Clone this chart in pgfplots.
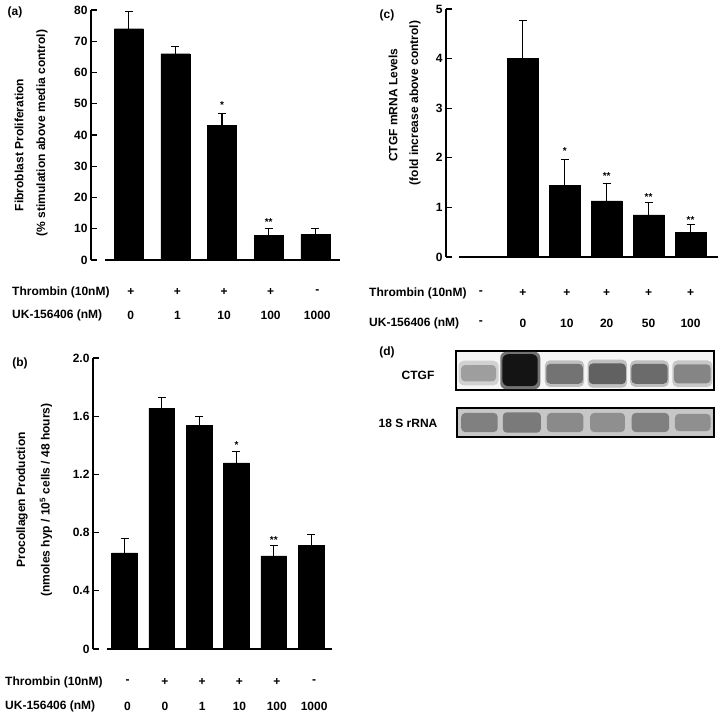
\documentclass[border=0pt]{standalone}
\usepackage{fontspec}
\setmainfont{Liberation Sans}
\usepackage{pgfplots}
\pgfplotsset{compat=1.18}

\newcommand{\lab}{\bfseries\fontsize{12}{14}\selectfont}
\newcommand{\st}{\bfseries\fontsize{10}{12}\selectfont}

\pgfplotsset{
  panel/.style={
    scale only axis, clip=false, anchor=south west,
    axis x line=none, axis y line*=left,
    y axis line style={line width=1.2pt},
    ytick style={line width=1.2pt, black},
    tick align=inside, major tick length=6pt,
    yticklabel style={font=\lab},
    xtick=\empty,
  },
  barstyle/.style={ybar, bar shift=0pt, fill=black, draw=black,
    error bars/y dir=plus, error bars/y explicit,
    error bars/error bar style={line width=1.2pt, black},
    error bars/error mark options={rotate=90, line width=1.2pt, mark size=4pt, black}},
  blot/.style={scale only axis, clip=false, anchor=south west,
    xmin=-0.54, xmax=5.52, ymin=0, ymax=1, ticks=none,
    axis line style={line width=1.2pt}},
}

\begin{document}
\begin{tikzpicture}
\useasboundingbox (0,0) rectangle (720pt,715pt);

% ---------------- (a)
\begin{axis}[panel, at={(91pt,455pt)}, width=249pt, height=250pt,
  xmin=-0.81, xmax=4.53, ymin=0, ymax=80,
  ytick={0,10,20,30,40,50,60,70,80}, yticklabels={0,10,20,30,40,50,60,70,80}]
\addplot[bar width=29pt, barstyle] coordinates {
  (0,74.0) +- (0,5.5)
  (1,66.0) +- (0,2.4)
  (2,43.0) +- (0,3.8)
  (3,7.9) +- (0,2.1)
  (4,8.1) +- (0,2.0)};
\draw[line width=1.2pt] (axis cs:-0.507,0) -- (axis cs:4.53,0);
\node[font=\st] at (axis cs:2,49.6) {*};
\node[font=\st] at (axis cs:3,12.2) {**};
\node[font=\lab, yshift=-32pt, xshift=2pt] at (axis cs:0,0) {+};
\node[font=\lab, yshift=-32pt, xshift=2pt] at (axis cs:1,0) {+};
\node[font=\lab, yshift=-32pt, xshift=2pt] at (axis cs:2,0) {+};
\node[font=\lab, yshift=-32pt, xshift=2pt] at (axis cs:3,0) {+};
\node[font=\lab, yshift=-32pt, xshift=2pt] at (axis cs:4,0) {-};
\node[font=\lab, yshift=-55pt, xshift=2pt] at (axis cs:0,0) {0};
\node[font=\lab, yshift=-55pt, xshift=2pt] at (axis cs:1,0) {1};
\node[font=\lab, yshift=-55pt, xshift=2pt] at (axis cs:2,0) {10};
\node[font=\lab, yshift=-55pt, xshift=2pt] at (axis cs:3,0) {100};
\node[font=\lab, yshift=-55pt, xshift=2pt] at (axis cs:4,0) {1000};
\end{axis}

% ---------------- (b)
\begin{axis}[panel, at={(93pt,66pt)}, width=239pt, height=291pt,
  xmin=-0.845, xmax=5.56, ymin=0, ymax=2,
  ytick={0,0.4,0.8,1.2,1.6,2.0}, yticklabels={0,0.4,0.8,1.2,1.6,2.0}]
\addplot[bar width=25.7pt, barstyle] coordinates {
  (0,0.66) +- (0,0.10)
  (1,1.655) +- (0,0.075)
  (2,1.535) +- (0,0.065)
  (3,1.28) +- (0,0.08)
  (4,0.64) +- (0,0.07)
  (5,0.71) +- (0,0.075)};
\draw[line width=1.2pt] (axis cs:-0.47,0) -- (axis cs:5.56,0);
\node[font=\st] at (axis cs:3,1.40) {*};
\node[font=\st] at (axis cs:4,0.75) {**};
\node[font=\lab, yshift=-33pt, xshift=3pt] at (axis cs:0,0) {-};
\node[font=\lab, yshift=-33pt, xshift=3pt] at (axis cs:1,0) {+};
\node[font=\lab, yshift=-33pt, xshift=3pt] at (axis cs:2,0) {+};
\node[font=\lab, yshift=-33pt, xshift=3pt] at (axis cs:3,0) {+};
\node[font=\lab, yshift=-33pt, xshift=3pt] at (axis cs:4,0) {+};
\node[font=\lab, yshift=-33pt, xshift=3pt] at (axis cs:5,0) {-};
\node[font=\lab, yshift=-57pt, xshift=3pt] at (axis cs:0,0) {0};
\node[font=\lab, yshift=-57pt, xshift=3pt] at (axis cs:1,0) {0};
\node[font=\lab, yshift=-57pt, xshift=3pt] at (axis cs:2,0) {1};
\node[font=\lab, yshift=-57pt, xshift=3pt] at (axis cs:3,0) {10};
\node[font=\lab, yshift=-57pt, xshift=3pt] at (axis cs:4,0) {100};
\node[font=\lab, yshift=-57pt, xshift=3pt] at (axis cs:5,0) {1000};
\end{axis}

% ---------------- (c)
\begin{axis}[panel, at={(446pt,458pt)}, width=272pt, height=248pt,
  xmin=-0.835, xmax=5.656, ymin=0, ymax=5,
  ytick={0,1,2,3,4,5}, yticklabels={0,1,2,3,4,5}]
\addplot[bar width=31pt, barstyle] coordinates {
  (1,4.00) +- (0,0.77)
  (2,1.44) +- (0,0.53)
  (3,1.13) +- (0,0.35)
  (4,0.85) +- (0,0.25)
  (5,0.50) +- (0,0.15)};
\draw[line width=1.2pt] (axis cs:-0.525,0) -- (axis cs:5.656,0);
\node[font=\st] at (axis cs:2,2.14) {*};
\node[font=\st] at (axis cs:3,1.63) {**};
\node[font=\st] at (axis cs:4,1.21) {**};
\node[font=\st] at (axis cs:5,0.75) {**};
\node[font=\lab, yshift=-36pt] at (axis cs:0,0) {-};
\node[font=\lab, yshift=-36pt] at (axis cs:1,0) {+};
\node[font=\lab, yshift=-36pt, xshift=2pt] at (axis cs:2,0) {+};
\node[font=\lab, yshift=-36pt] at (axis cs:3,0) {+};
\node[font=\lab, yshift=-36pt] at (axis cs:4,0) {+};
\node[font=\lab, yshift=-36pt] at (axis cs:5,0) {+};
\node[font=\lab, yshift=-66pt] at (axis cs:0,0) {-};
\node[font=\lab, yshift=-66pt] at (axis cs:1,0) {0};
\node[font=\lab, yshift=-66pt, xshift=2pt] at (axis cs:2,0) {10};
\node[font=\lab, yshift=-66pt] at (axis cs:3,0) {20};
\node[font=\lab, yshift=-66pt] at (axis cs:4,0) {50};
\node[font=\lab, yshift=-66pt] at (axis cs:5,0) {100};
\end{axis}

% ---------------- (d) CTGF blot
\begin{axis}[blot, at={(456pt,325pt)}, width=258pt, height=39pt,
  axis background/.style={fill=black!4}]
\addplot[fill=black!18, draw=none, rounded corners=5pt] coordinates {(-0.48,0.12) (0.46,0.12) (0.46,0.75) (-0.48,0.75)} -- cycle;
\addplot[fill=black!38, draw=none, rounded corners=4pt] coordinates {(-0.42,0.22) (0.40,0.22) (0.40,0.64) (-0.42,0.64)} -- cycle;
\addplot[fill=black!55, draw=none, rounded corners=6pt] coordinates {(0.50,0.02) (1.44,0.02) (1.44,0.98) (0.50,0.98)} -- cycle;
\addplot[fill=black!92, draw=none, rounded corners=6pt] coordinates {(0.55,0.10) (1.38,0.10) (1.38,0.92) (0.55,0.92)} -- cycle;
\addplot[fill=black!25, draw=none, rounded corners=5pt] coordinates {(1.55,0.08) (2.47,0.08) (2.47,0.76) (1.55,0.76)} -- cycle;
\addplot[fill=black!55, draw=none, rounded corners=4pt] coordinates {(1.58,0.16) (2.44,0.16) (2.44,0.67) (1.58,0.67)} -- cycle;
\addplot[fill=black!25, draw=none, rounded corners=5pt] coordinates {(2.55,0.06) (3.48,0.06) (3.48,0.78) (2.55,0.78)} -- cycle;
\addplot[fill=black!62, draw=none, rounded corners=4pt] coordinates {(2.58,0.15) (3.45,0.15) (3.45,0.68) (2.58,0.68)} -- cycle;
\addplot[fill=black!25, draw=none, rounded corners=5pt] coordinates {(3.55,0.08) (4.46,0.08) (4.46,0.76) (3.55,0.76)} -- cycle;
\addplot[fill=black!58, draw=none, rounded corners=4pt] coordinates {(3.58,0.16) (4.43,0.16) (4.43,0.67) (3.58,0.67)} -- cycle;
\addplot[fill=black!22, draw=none, rounded corners=5pt] coordinates {(4.54,0.08) (5.48,0.08) (5.48,0.76) (4.54,0.76)} -- cycle;
\addplot[fill=black!48, draw=none, rounded corners=4pt] coordinates {(4.58,0.17) (5.44,0.17) (5.44,0.66) (4.58,0.66)} -- cycle;
\end{axis}

% ---------------- (d) 18S blot
\begin{axis}[blot, at={(457pt,278pt)}, width=257pt, height=29pt,
  axis background/.style={fill=black!22}]
\addplot[fill=black!50, draw=none, rounded corners=4pt] coordinates {(-0.44,0.17) (0.42,0.17) (0.42,0.83) (-0.44,0.83)} -- cycle;
\addplot[fill=black!52, draw=none, rounded corners=4pt] coordinates {(0.54,0.15) (1.44,0.15) (1.44,0.85) (0.54,0.85)} -- cycle;
\addplot[fill=black!46, draw=none, rounded corners=4pt] coordinates {(1.58,0.17) (2.44,0.17) (2.44,0.83) (1.58,0.83)} -- cycle;
\addplot[fill=black!44, draw=none, rounded corners=4pt] coordinates {(2.60,0.17) (3.42,0.17) (3.42,0.83) (2.60,0.83)} -- cycle;
\addplot[fill=black!50, draw=none, rounded corners=4pt] coordinates {(3.58,0.17) (4.46,0.17) (4.46,0.83) (3.58,0.83)} -- cycle;
\addplot[fill=black!44, draw=none, rounded corners=4pt] coordinates {(4.60,0.20) (5.44,0.20) (5.44,0.80) (4.60,0.80)} -- cycle;
\end{axis}

% ---------------- texts
\node[font=\lab] at (15pt,703pt) {(a)};
\node[font=\lab] at (20pt,352pt) {(b)};
\node[font=\lab] at (387pt,700pt) {(c)};
\node[font=\lab] at (387pt,363pt) {(d)};

\node[font=\lab, rotate=90] at (19pt,570pt) {Fibroblast Proliferation};
\node[font=\lab, rotate=90] at (42pt,582pt) {(\% stimulation above media control)};
\node[font=\lab, rotate=90] at (22pt,215pt) {Procollagen Production};
\node[font=\lab, rotate=90] at (46pt,215pt) {(nmoles hyp / 10\textsuperscript{5} cells / 48 hours)};
\node[font=\lab, rotate=90] at (393pt,610pt) {CTGF mRNA Levels};
\node[font=\lab, rotate=90] at (415pt,612pt) {(fold increase above control)};

\node[font=\lab, anchor=west, inner sep=0pt] at (12pt,423pt) {Thrombin (10nM)};
\node[font=\lab, anchor=west, inner sep=0pt] at (12pt,400pt) {UK-156406 (nM)};
\node[font=\lab, anchor=west, inner sep=0pt] at (5pt,33pt) {Thrombin (10nM)};
\node[font=\lab, anchor=west, inner sep=0pt] at (5pt,9pt) {UK-156406 (nM)};
\node[font=\lab, anchor=west, inner sep=0pt] at (369pt,422pt) {Thrombin (10nM)};
\node[font=\lab, anchor=west, inner sep=0pt] at (369pt,392pt) {UK-156406 (nM)};

\node[font=\lab] at (418pt,340pt) {CTGF};
\node[font=\lab] at (408pt,292pt) {18 S rRNA};
\end{tikzpicture}
\end{document}
